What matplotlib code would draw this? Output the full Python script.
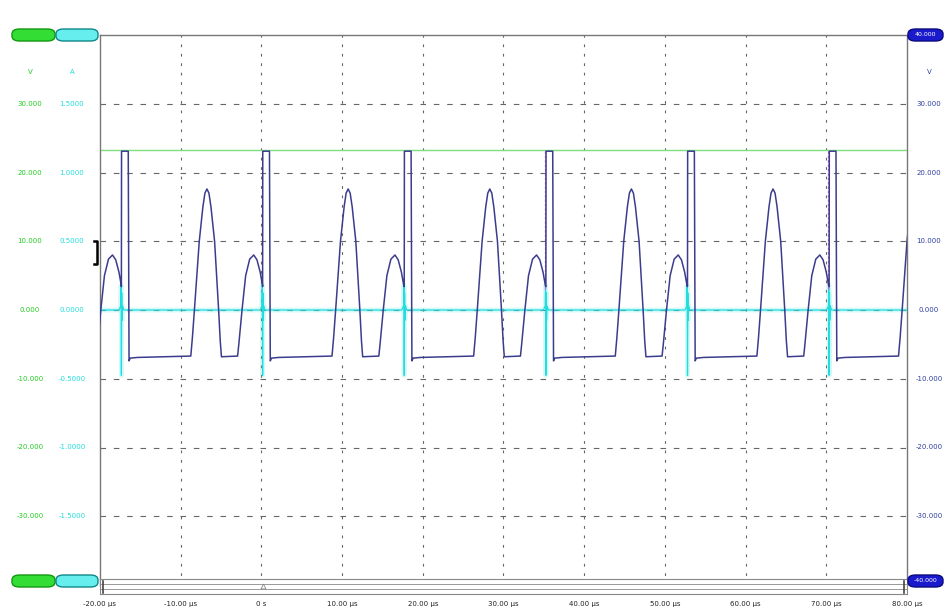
import numpy as np
import matplotlib
matplotlib.use("Agg")
import matplotlib.pyplot as plt
from matplotlib.patches import FancyBboxPatch

# --- data read off the scope capture ---
# rising edge of each gate pulse (µs), incl. one before the window
pulse_times = [-34.85, -17.35, 0.15, 17.7, 35.25, 52.8, 70.35]

# one period of the dark-blue trace, relative to the pulse edge (µs, V)
cycle_t = [0.0, 0.02, 0.85, 0.95, 1.1, 2.0,
           8.6, 8.8, 9.05, 9.65, 10.1, 10.35, 10.6, 10.85, 11.1, 11.55, 12.05, 12.25, 12.4,
           14.4, 14.55, 14.75, 14.95, 15.4, 15.9, 16.4, 16.8, 17.2, 17.5]
cycle_v = [3.4, 23.1, 23.1, -7.4, -7.0, -6.9,
           -6.7, -4.0, 0.0, 10.0, 15.0, 17.0, 17.6, 17.0, 15.0, 10.0, 0.0, -4.5, -6.8,
           -6.7, -5.0, -2.5, 0.0, 5.0, 7.4, 8.0, 7.3, 5.5, 3.5]

# cyan current probe: spike at each edge, zero otherwise
spike_t = [-0.3, -0.08, -0.04, 0.0, 0.04, 0.08, 0.15, 0.3]
spike_v = [0.0, 0.6, 3.6, -9.5, 2.5, -1.5, 0.6, 0.0]

green_level = 23.3
magenta_edges = [35.1, 70.2]

x_ticks = [-20, -10, 0, 10, 20, 30, 40, 50, 60, 70, 80]
x_labels = ["-20.00 µs", "-10.00 µs", "0 s", "10.00 µs", "20.00 µs", "30.00 µs",
            "40.00 µs", "50.00 µs", "60.00 µs", "70.00 µs", "80.00 µs"]
y_grid = [30, 20, 10, 0, -10, -20, -30]
left_v = ["30.000", "20.000", "10.000", "0.000", "-10.000", "-20.000", "-30.000"]
left_a = ["1.5000", "1.0000", "0.5000", "0.0000", "-0.5000", "-1.0000", "-1.5000"]
right_v = ["30.000", "20.000", "10.000", "0.000", "-10.000", "-20.000", "-30.000"]

NAVY = "#3c3c8e"
GREEN = "#22cc22"
CYAN = "#22dddd"
BLUE_TXT = "#3040a0"

W, H = 945, 616
fig = plt.figure(figsize=(W / 100, H / 100), dpi=100)
fig.patch.set_facecolor("white")

def fx(px):
    return px / W

def fy(py):
    return 1 - py / H

ax = fig.add_axes([fx(100), fy(585), fx(907) - fx(100), fy(35) - fy(585)])
ax.set_xlim(-20, 80)
ax.set_ylim(-40, 40)
ax.set_xticks([])
ax.set_yticks([])
for s in ["left", "top", "right"]:
    ax.spines[s].set_color("#777777")
    ax.spines[s].set_linewidth(1.0)
ax.spines["bottom"].set_visible(False)

# grid
for y in y_grid:
    ax.axhline(y, color="#666666", lw=0.8, ls=(0, (5, 7)), zorder=1)
for x in x_ticks[1:-1]:
    ax.axvline(x, color="#666666", lw=0.8, ls=(0, (2.5, 6)), zorder=1)

# build traces
t_all, v_all = [], []
c_t, c_v = [], []
for p in pulse_times:
    t_all += [p + t for t in cycle_t]
    v_all += cycle_v
    c_t += [p + t for t in spike_t]
    c_v += spike_v

# green reference line
ax.plot([-20, 80], [green_level, green_level], color="#7de07d", lw=1.0, zorder=2)

# cyan baseline + spikes
c_t = [-20] + c_t + [80]
c_v = [0] + c_v + [0]
ax.plot(c_t, c_v, color=CYAN, lw=3.5, alpha=0.18, zorder=2)
ax.plot(c_t, c_v, color=CYAN, lw=0.9, zorder=3)

# magenta channel peeking out at a couple of edges
for e in magenta_edges:
    ax.plot([e, e], [3.0, green_level], color="#e060e0", lw=0.9, ls=(0, (2, 1.5)), zorder=3)

# main trace
ax.plot(t_all, v_all, color=NAVY, lw=1.1, zorder=4)

# left labels
fig.text(fx(30), fy(72), "V", color=GREEN, fontsize=5, ha="center", va="center")
fig.text(fx(72), fy(72), "A", color=CYAN, fontsize=5, ha="center", va="center")
for y, a, b in zip(y_grid, left_v, left_a):
    py = 310 - y * 6.87
    fig.text(fx(30), fy(py), a, color=GREEN, fontsize=5, ha="center", va="center")
    fig.text(fx(72), fy(py), b, color=CYAN, fontsize=5, ha="center", va="center")

# right labels
fig.text(fx(929), fy(72), "V", color=BLUE_TXT, fontsize=5, ha="center", va="center")
for y, a in zip(y_grid, right_v):
    py = 310 - y * 6.87
    fig.text(fx(929), fy(py), a, color=BLUE_TXT, fontsize=5, ha="center", va="center")

# channel badges
def badge(x0, x1, yc, face, edge, text="", tcol="white"):
    h = 12
    b = FancyBboxPatch((fx(x0), fy(yc + h / 2)), fx(x1) - fx(x0), h / H,
                       boxstyle="round,pad=0,rounding_size=0.008",
                       transform=fig.transFigure, facecolor=face, edgecolor=edge,
                       lw=1.0, zorder=5)
    fig.patches.append(b)
    if text:
        fig.text(fx((x0 + x1) / 2), fy(yc), text, color=tcol, fontsize=4.5,
                 ha="center", va="center", zorder=6)

for yc in [35, 581]:
    badge(12, 55, yc, "#33dd33", "#119911")
    badge(56, 98, yc, "#66eeee", "#118888")
badge(908, 943, 35, "#1a1acc", "#0a0a80", "40.000")
badge(908, 943, 581, "#1a1acc", "#0a0a80", "-40.000")

# ground marker bracket
fig.add_artist(plt.Line2D([fx(94), fx(97), fx(97), fx(94)],
                          [fy(241), fy(241), fy(264), fy(264)],
                          color="black", lw=1.8, transform=fig.transFigure))

# scroll bar under the plot
sb = fig.add_axes([fx(100), fy(594), fx(907) - fx(100), (594 - 579) / H])
sb.set_xlim(-20, 80)
sb.set_ylim(0, 1)
sb.set_xticks([])
sb.set_yticks([])
for s in sb.spines.values():
    s.set_color("#888888")
    s.set_linewidth(0.8)
sb.axhline(0.35, color="#999999", lw=0.7)
sb.axhline(0.65, color="#999999", lw=0.7)
sb.plot([-19.6, -19.6], [0.1, 0.9], color="#444444", lw=1.2)
sb.plot([79.6, 79.6], [0.1, 0.9], color="#444444", lw=1.2)
sb.plot([0.15], [0.55], marker="^", ms=3.5, mfc="none", mec="#888888", mew=0.6)

# x labels
for x, lab in zip(x_ticks, x_labels):
    px = 100 + (x + 20) * 8.07
    fig.text(fx(px), fy(604), lab, color="#222222", fontsize=5, ha="center", va="center")

fig.savefig("out.png", dpi=100)
